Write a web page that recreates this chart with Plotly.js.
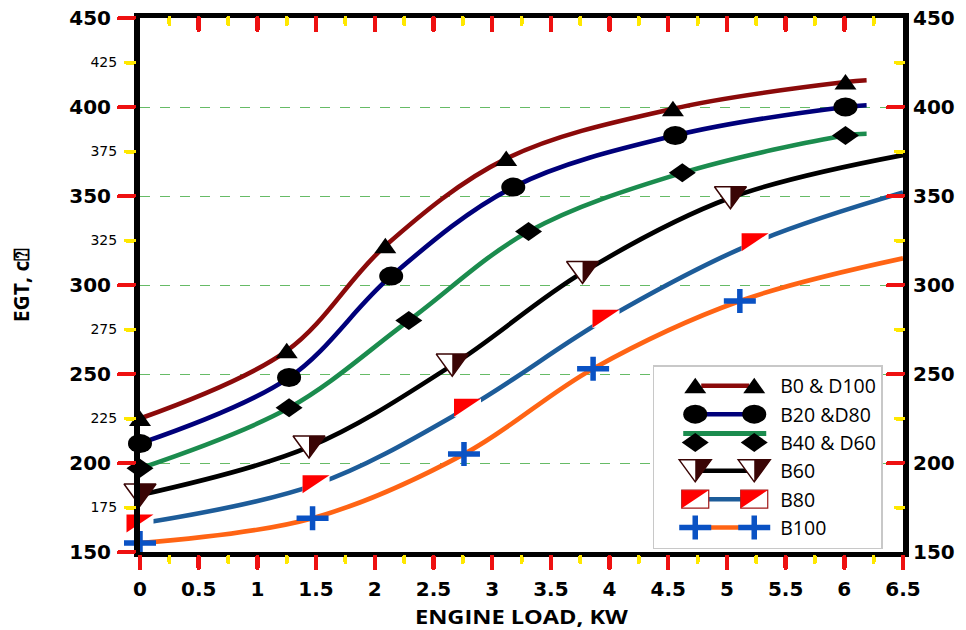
<!DOCTYPE html>
<html>
<head>
<meta charset="utf-8">
<script src="https://cdn.plot.ly/plotly-3.0.1.min.js"></script>
<style>
  html, body { margin: 0; padding: 0; background: #ffffff; }
  #chart { width: 966px; height: 630px; }
  .ticks { stroke-linecap: round; }
</style>
</head>
<body>
<div id="chart"></div>
<script>
// Exhaust gas temperature versus engine load for six biodiesel blends
const seriesNames = ['B0 & D100', 'B20 &D80', 'B40 & D60', 'B60', 'B80', 'B100'];

const loadB0   = [0, 1.25, 2.09, 3.12, 4.54, 6.01];
const egtB0    = [225, 263, 322, 371, 399, 414];
const loadB20  = [0, 1.27, 2.14, 3.18, 4.56, 6.01];
const egtB20   = [211, 248, 305, 355, 384, 400];
const loadB40  = [0, 1.27, 2.29, 3.31, 4.62, 6.01];
const egtB40   = [197, 231, 280, 330, 363, 384];
const loadB60  = [0, 1.44, 2.66, 3.77, 5.03];
const egtB60   = [182, 209, 255, 307, 349];
const loadB80  = [0, 1.50, 2.79, 3.97, 5.24];
const egtB80   = [166, 188, 231, 281, 324];
const loadB100 = [0, 1.47, 2.76, 3.86, 5.11];
const egtB100  = [155, 169, 205, 253, 291];

// where each fitted curve stops
const curveEndLoad = [6.19, 6.19, 6.19, 6.5, 6.5, 6.5];
const curveEndEgt  = [415, 401, 385, 373, 352, 315];

const xTickVals = [0, 0.5, 1, 1.5, 2, 2.5, 3, 3.5, 4, 4.5, 5, 5.5, 6, 6.5];
const yMajorVals = [150, 200, 250, 300, 350, 400, 450];
const yMinorVals = [175, 225, 275, 325, 375, 425];

const loads = [loadB0, loadB20, loadB40, loadB60, loadB80, loadB100];
const egts  = [egtB0, egtB20, egtB40, egtB60, egtB80, egtB100];
const lineColors = ['#8b0a0a', '#00007a', '#1b8c4e', '#000000', '#1d5c99', '#ff6414'];

const RED = '#ee1111', YEL = '#ffe800';
const tickFont = { family: 'DejaVu Sans', size: 20, color: '#000', weight: 'bold' };

const traces = loads.map((xs, i) => ({
  type: 'scatter',
  mode: 'lines+markers',
  name: seriesNames[i],
  x: xs.concat([curveEndLoad[i]]),
  y: egts[i].concat([curveEndEgt[i]]),
  xaxis: 'x', yaxis: 'y',
  cliponaxis: false,
  line: { color: lineColors[i], width: 4.6, shape: 'spline', smoothing: 1 },
  marker: { size: xs.map(() => 20).concat([0]), color: '#000', symbol: 'circle' },
  hoverinfo: 'x+y'
}));
// empty helpers so the mirrored top / right / minor-label axes are drawn
traces.push({ type: 'scatter', x: [null], y: [null], xaxis: 'x2', yaxis: 'y2', showlegend: false, hoverinfo: 'skip' });
traces.push({ type: 'scatter', x: [null], y: [null], xaxis: 'x', yaxis: 'y3', showlegend: false, hoverinfo: 'skip' });

const layout = {
  width: 966, height: 630,
  margin: { l: 140, r: 63, t: 18, b: 78, pad: 0 },
  paper_bgcolor: '#ffffff', plot_bgcolor: '#ffffff',
  showlegend: true,
  legend: {
    x: 0.672, y: 0.35, xanchor: 'left', yanchor: 'top',
    bgcolor: '#ffffff', bordercolor: '#c8c8c8', borderwidth: 1.5,
    font: { family: 'Open Sans', size: 19.5, color: '#000' },
    itemwidth: 116, traceorder: 'normal'
  },
  xaxis: {
    range: [0, 6.5], tickmode: 'array', tickvals: xTickVals,
    ticks: 'outside', ticklen: 11, tickwidth: 4.5, tickcolor: RED,
    showline: true, linecolor: '#000', linewidth: 5, showgrid: false, zeroline: false,
    tickfont: tickFont, ticklabelstandoff: 4,
    minor: { dtick: 0.25, tick0: 0.25, ticks: 'outside', ticklen: 5, tickwidth: 4, tickcolor: YEL, showgrid: false },
    title: { text: 'ENGINE LOAD, KW', standoff: 13,
             font: { family: 'Open Sans', size: 20, color: '#000', weight: 'bold' } }
  },
  xaxis2: {
    overlaying: 'x', side: 'top', anchor: 'y', range: [0, 6.5], tickmode: 'array', tickvals: xTickVals,
    ticks: 'inside', ticklen: 12, tickwidth: 4.5, tickcolor: RED, showticklabels: false,
    showline: true, linecolor: '#000', linewidth: 5, showgrid: false, zeroline: false,
    minor: { dtick: 0.25, tick0: 0.25, ticks: 'inside', ticklen: 6, tickwidth: 4, tickcolor: YEL, showgrid: false }
  },
  yaxis: {
    range: [150, 450], tickmode: 'array', tickvals: yMajorVals,
    ticks: 'outside', ticklen: 15, tickwidth: 4, tickcolor: RED,
    showline: true, linecolor: '#000', linewidth: 6, zeroline: false,
    showgrid: true, gridcolor: '#66bb66', gridwidth: 1, griddash: '10px,10px',
    tickfont: tickFont, ticklabelstandoff: 4,
    minor: { dtick: 25, tick0: 175, ticks: 'outside', ticklen: 8, tickwidth: 4, tickcolor: YEL, showgrid: false },
    title: { text: 'EGT, c\u2370', standoff: 36,
             font: { family: 'Open Sans', size: 21, color: '#000', weight: 'bold' } }
  },
  yaxis2: {
    overlaying: 'y', side: 'right', anchor: 'x', range: [150, 450], tickmode: 'array', tickvals: yMajorVals,
    ticks: 'inside', ticklen: 15, tickwidth: 4, tickcolor: RED,
    showline: true, linecolor: '#000', linewidth: 6, zeroline: false, showgrid: false,
    tickfont: tickFont,
    minor: { dtick: 25, tick0: 175, ticks: 'inside', ticklen: 7, tickwidth: 4, tickcolor: YEL, showgrid: false }
  },
  yaxis3: {
    overlaying: 'y', side: 'left', anchor: 'x', range: [150, 450], tickmode: 'array', tickvals: yMinorVals,
    ticks: 'outside', ticklen: 19, tickcolor: 'rgba(0,0,0,0)', showline: false, showgrid: false, zeroline: false,
    tickfont: { family: 'DejaVu Sans', size: 14, color: '#000' }
  }
};

// marker glyphs drawn per series (centred on the data point)
function glyph(k, inLegend) {
  const brown = '#3a0505';
  switch (k) {
    case 0: return [{ d: 'M-11,7.5L11,7.5L0,-8Z', fill: '#000' }];
    case 1: return [{ d: 'M12,0A12,9.5 0 1,1 -12,0A12,9.5 0 1,1 12,0Z', fill: '#000' }];
    case 2: return [{ d: 'M-13.5,0L0,-9.5L13.5,0L0,9.5Z', fill: '#000' }];
    case 3: return [
      { d: 'M-16,-11L16,-11L0,11Z', fill: '#ffffff', stroke: brown, sw: 1.5 },
      { d: 'M0,-11L16,-11L0,11Z', fill: brown }
    ];
    case 4: return [
      { d: 'M-13.5,-9H13.5V9H-13.5Z', fill: '#ffffff', stroke: inLegend ? '#a01818' : null, sw: 1.2 },
      { d: 'M-13.5,-9H13.5L-13.5,9Z', fill: '#ff0000' }
    ];
    default: return [{ d: 'M-16,0H16M0,-12V12', fill: 'none', stroke: '#0a52c4', sw: 5.5 }];
  }
}

const NS = 'http://www.w3.org/2000/svg';
function placeGlyph(parent, k, tx, ty, inLegend) {
  const g = document.createElementNS(NS, 'g');
  g.setAttribute('transform', 'translate(' + tx + ',' + ty + ')');
  glyph(k, inLegend).forEach(s => {
    const p = document.createElementNS(NS, 'path');
    p.setAttribute('d', s.d);
    p.setAttribute('fill', s.fill || 'none');
    if (s.stroke) { p.setAttribute('stroke', s.stroke); p.setAttribute('stroke-width', s.sw); }
    g.appendChild(p);
  });
  parent.appendChild(g);
}

const gd = document.getElementById('chart');
Plotly.newPlot(gd, traces, layout, { staticPlot: true, displayModeBar: false }).then(() => {
  // swap the stock symbols for the blend-specific glyphs
  const groups = gd.querySelectorAll('.subplot.xy .scatterlayer .trace');
  groups.forEach((tg, k) => {
    if (k >= loads.length) return;
    const pts = tg.querySelectorAll('.points path.point');
    pts.forEach((pt, j) => {
      pt.style.display = 'none';
      if (j >= loads[k].length) return;
      const m = /translate\(([-\d.e]+),\s*([-\d.e]+)\)/.exec(pt.getAttribute('transform') || '');
      if (m) placeGlyph(pt.parentNode, k, +m[1], +m[2], false);
    });
  });

  // legend: two glyphs joined by a short line segment
  const items = gd.querySelectorAll('.legend .traces');
  items.forEach((it, k) => {
    const layers = it.querySelector('.layers');
    if (layers) layers.style.display = 'none';
    const g = document.createElementNS(NS, 'g');
    const ly = k === 2 ? -9 : 0;
    const ln = document.createElementNS(NS, 'path');
    ln.setAttribute('d', 'M' + (k === 2 ? 29 : 47) + ',' + ly + 'H' + (k === 2 ? 112 : 95));
    ln.setAttribute('stroke', lineColors[k]);
    ln.setAttribute('stroke-width', k === 2 ? 5 : 4.5);
    g.appendChild(ln);
    placeGlyph(g, k, 41, 0, true);
    placeGlyph(g, k, 100, 0, true);
    it.insertBefore(g, it.firstChild);
  });

  // load-axis title: stretched a little about its centre
  const xt = gd.querySelector('.g-xtitle text');
  if (xt) {
    const b = xt.getBBox();
    const cx = b.x + b.width / 2;
    xt.setAttribute('transform', 'translate(' + cx + ',0) scale(1.18,1) translate(' + (-cx) + ',0)');
  }
});
</script>
</body>
</html>
